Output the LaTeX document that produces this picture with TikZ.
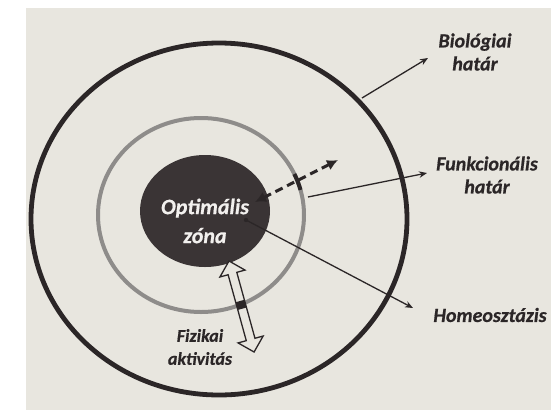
\documentclass[tikz,border=0pt]{standalone}
\usepackage{fontspec}
\setmainfont{Carlito}[BoldItalicFeatures={FakeBold=0.6}]
\usetikzlibrary{arrows.meta}
\definecolor{paper}{HTML}{E8E6DF}
\definecolor{ink}{HTML}{2B2627}
\definecolor{ring}{HTML}{8E8C8A}
\definecolor{core}{HTML}{3A3435}
\definecolor{coretext}{HTML}{F2F0EE}

\begin{document}
\begin{tikzpicture}[x=1pt,y=-1pt,
  lbl/.style={font=\fontsize{20}{23}\selectfont\bfseries\itshape, text=ink, align=center, inner sep=0pt},
  pointer/.style={draw=ink, line width=1.3pt, -{Stealth[length=8pt,width=6.5pt]}},
  twoway/.style={draw=ink, line width=3pt, dash pattern=on 8pt off 5pt,
    {Latex[length=11pt,width=11pt]}-{Latex[length=11pt,width=11pt]}},
]
\useasboundingbox (0,0) rectangle (551,410);
\fill[white] (0,0) rectangle (551,410);
\fill[paper] (26,8) rectangle (551,410);

% outer (biological) and inner (functional) boundaries
\draw[ink, line width=4.8pt] (219,219) ellipse [x radius=188, y radius=176];
\draw[ring, line width=4pt] (201,215) ellipse [x radius=103, y radius=97];

% optimal zone
\fill[core] (205,211) ellipse [x radius=65, y radius=56];
\node[font=\fontsize{22}{29}\selectfont\bfseries\itshape, text=coretext, align=center, inner sep=0pt]
  (opt) at (205,221) {Optimális\\zóna};

% labels
\node[lbl] (bio) at (475,52) {Biológiai\\határ};
\node[lbl] (fun) at (487,175) {Funkcionális\\határ};
\node[lbl] (hom) at (490,315) {Homeosztázis};
\node[lbl, font=\fontsize{18}{23}\selectfont\bfseries\itshape] (fiz) at (200,347) {Fizikai\\aktivitás};

% pointer ends
\coordinate (bioS) at (362,98);
\coordinate (bioE) at (428,58);
\coordinate (funS) at (308,197);
\coordinate (funE) at (427,173);
\coordinate (homS) at (246,220);
\coordinate (homE) at (413,308);

\draw[pointer] (bioS) -- (bioE);
\draw[pointer] (funS) -- (funE);
\draw[pointer] (homS) -- (homE);
\fill[ink] (homS) circle (2.2);

% two-way dashed arrow across the functional boundary
\coordinate (dA) at (255,202);
\coordinate (dB) at (338,160);
\draw[ink, line width=4pt] plot[domain=-25:-15, samples=12] ({201+103*cos(\x)},{215+97*sin(\x)});
\draw[twoway] (dA) -- (dB);

% hollow double arrow for physical activity
\begin{scope}[shift={(229,261)}, rotate=-74.6]
  \filldraw[fill=paper, draw=ink, line width=1.3pt, line join=miter]
    (0,0) -- (13,13) -- (13,4.5) -- (81.4,4.5) -- (81.4,13) -- (94.4,0)
    -- (81.4,-13) -- (81.4,-4.5) -- (13,-4.5) -- (13,-13) -- cycle;
  \fill[ink] (41.5,-4.5) rectangle (49.5,4.5);
\end{scope}
\end{tikzpicture}
\end{document}
